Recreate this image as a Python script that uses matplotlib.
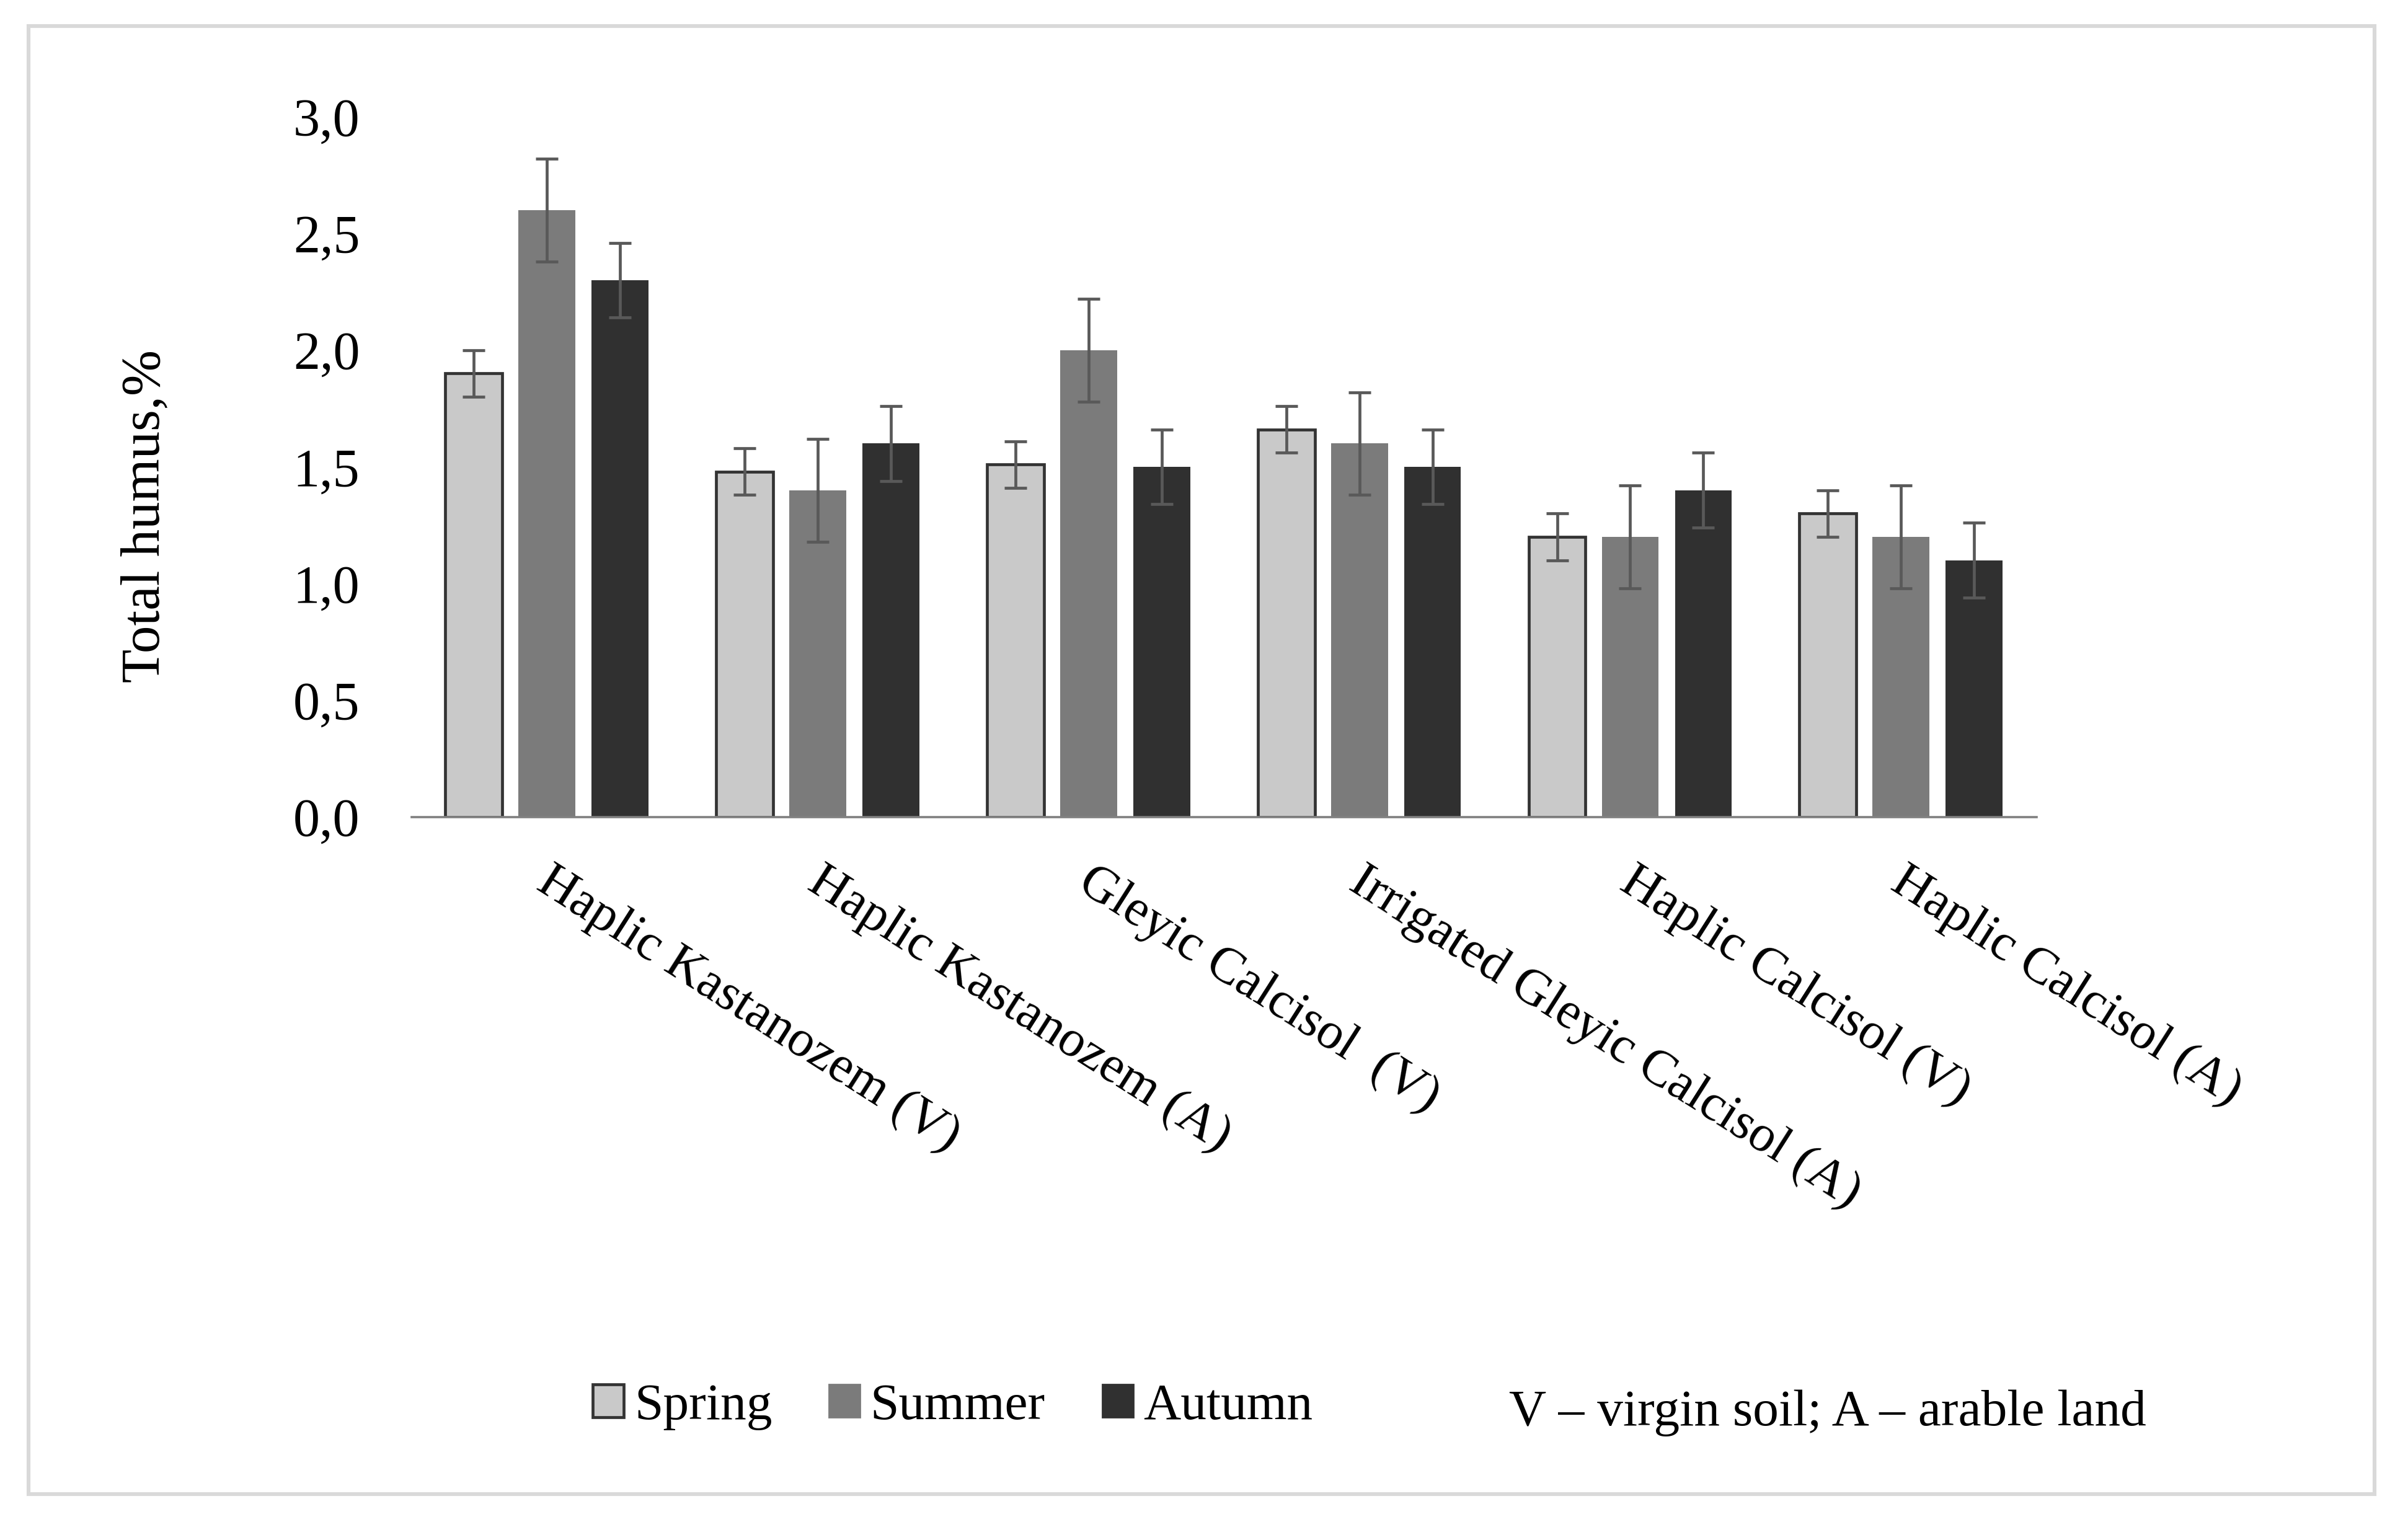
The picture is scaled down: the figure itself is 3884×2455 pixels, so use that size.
import numpy as np
import matplotlib
matplotlib.use('Agg')
import matplotlib.pyplot as plt
from matplotlib.patches import Rectangle, Patch

plt.rcParams['font.family'] = ['Liberation Serif', 'DejaVu Serif']

# data
soils = ['Haplic Kastanozem (V)', 'Haplic Kastanozem (A)', 'Gleyic Calcisol  (V)',
         'Irrigated Gleyic Calcisol (A)', 'Haplic Calcisol (V)', 'Haplic Calcisol (A)']
seasons = ['Spring', 'Summer', 'Autumn']
spring = [1.9, 1.48, 1.51, 1.66, 1.2, 1.3]
summer = [2.6, 1.4, 2.0, 1.6, 1.2, 1.2]
autumn = [2.3, 1.6, 1.5, 1.5, 1.4, 1.1]
spring_err = [0.1, 0.1, 0.1, 0.1, 0.1, 0.1]
summer_err = [0.22, 0.22, 0.22, 0.22, 0.22, 0.22]
autumn_err = [0.16, 0.16, 0.16, 0.16, 0.16, 0.16]
yticks = [0.0, 0.5, 1.0, 1.5, 2.0, 2.5, 3.0]

colors = ['#c9c9c9', '#7b7b7b', '#303030']
fs = 31

fig = plt.figure(figsize=(19.42, 12.275), dpi=200)
ax = fig.add_axes([0.1709, 0.4632, 0.6748, 0.4601])

# frame around the whole figure
fig.patches.append(Rectangle((0.0118, 0.0183), 0.9744, 0.9645, transform=fig.transFigure,
                             fill=False, edgecolor='#d9d9d9', linewidth=2.2))

x = np.arange(len(soils))
w = 0.21
step = 0.27
vals = [spring, summer, autumn]
errs = [spring_err, summer_err, autumn_err]
for i in range(3):
    ec = '#333333' if i == 0 else colors[i]
    lw = 1.7 if i == 0 else 0
    ax.bar(x + (i - 1) * step, vals[i], width=w, color=colors[i], edgecolor=ec,
           linewidth=lw, zorder=2)
    ax.errorbar(x + (i - 1) * step, vals[i], yerr=errs[i], fmt='none', ecolor='#595959',
                elinewidth=1.7, capsize=6.5, capthick=1.7, zorder=3)

ax.set_xlim(-0.5, len(soils) - 0.5)
ax.set_ylim(0, 3.0)
ax.set_yticks(yticks)
ax.set_yticklabels([f'{v:.1f}'.replace('.', ',') for v in yticks], fontsize=fs)
ax.tick_params(axis='y', length=0, pad=30)
ax.tick_params(axis='x', length=0)
ax.set_xticks(x)
ax.set_xticklabels([])
for s in ['top', 'right', 'left']:
    ax.spines[s].set_visible(False)
ax.spines['bottom'].set_color('#808080')
ax.spines['bottom'].set_linewidth(1.3)

for xi, name in zip(x, soils):
    ax.annotate(name, xy=(xi, 0), xycoords=('data', 'axes fraction'),
                xytext=(4, -24), textcoords='offset points',
                rotation=-32.5, rotation_mode='anchor', ha='left', va='top', fontsize=30)

fig.text(0.0605, 0.661, 'Total humus,%', rotation=90, ha='center', va='center', fontsize=32)

handles = [Patch(facecolor=colors[0], edgecolor='#333333', linewidth=1.7),
           Patch(facecolor=colors[1], edgecolor=colors[1]),
           Patch(facecolor=colors[2], edgecolor=colors[2])]
fig.legend(handles, seasons, loc='center', bbox_to_anchor=(0.3957, 0.0757), ncol=3,
           frameon=False, fontsize=30, handlelength=0.6, handleheight=0.6,
           handletextpad=0.2, columnspacing=1.1)

fig.text(0.759, 0.0716, 'V – virgin soil; A – arable land', ha='center', va='center', fontsize=30)

fig.savefig('out.png', dpi=200, facecolor='white')
